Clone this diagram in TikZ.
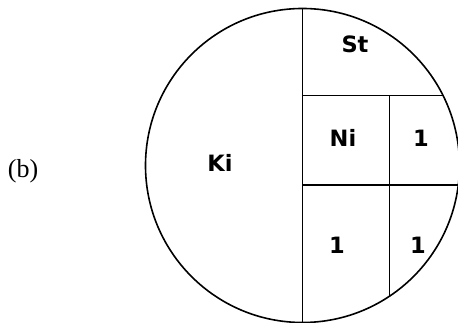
\documentclass[tikz,border=0pt]{standalone}
\usepackage{fontspec}
\setmainfont{Liberation Serif}
\newfontfamily\lblfont{DejaVu Sans}
\begin{document}
\begin{tikzpicture}[x=1pt,y=-1pt,line width=1.6pt,
  lbl/.style={font=\lblfont\bfseries\fontsize{22.5}{24}\selectfont, inner sep=0pt},
  figtag/.style={font=\fontsize{26}{28}\selectfont, inner sep=0pt}]
\useasboundingbox (0,0) rectangle (458,323);
\coordinate (c) at (302.5,165.5);
\draw (c) circle[radius=157];
\begin{scope}
  \clip (c) circle[radius=157];
  \draw (302.5,0) -- (302.5,330);
  \draw (302.5,95.7) -- (470,95.7);
  \draw (302.5,185) -- (470,185);
  \draw (389.5,95.7) -- (389.5,330);
\end{scope}
\node[lbl] (st) at (355,44) {St};
\node[lbl] (ki) at (220,163) {Ki};
\node[lbl] (ni) at (343,138) {Ni};
\node[lbl] (o1) at (421,138) {1};
\node[lbl] (o2) at (337,245) {1};
\node[lbl] (o3) at (418,245) {1};
\node[figtag] (b) at (23,171) {(b)};
\end{tikzpicture}
\end{document}
